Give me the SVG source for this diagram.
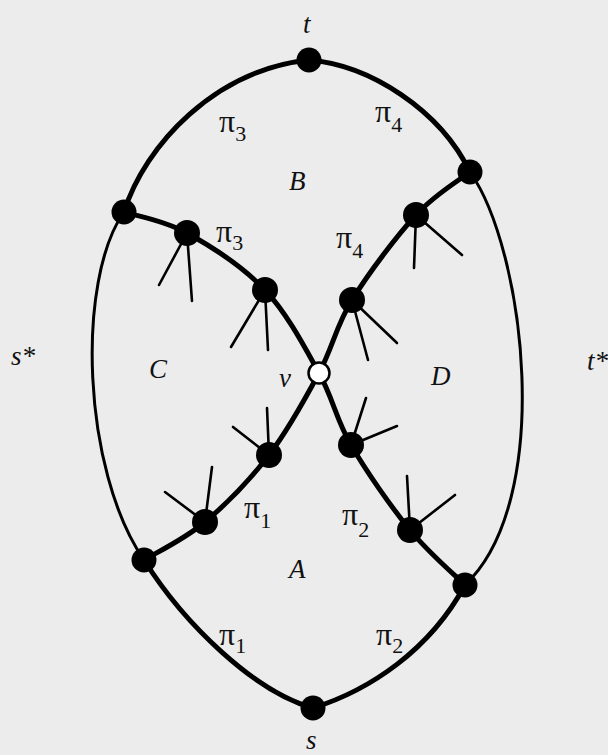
<svg xmlns="http://www.w3.org/2000/svg" width="608" height="755" viewBox="0 0 608 755">
<style>
.thick{fill:none;stroke:#000;stroke-width:5;stroke-linecap:round;stroke-linejoin:round}
.thin{fill:none;stroke:#000;stroke-width:3;stroke-linecap:round}
.spike{fill:none;stroke:#000;stroke-width:2.6;stroke-linecap:round}
.dot{fill:#000}
.open{fill:#fff;stroke:#000;stroke-width:2.5}
.it{font-family:"Liberation Serif",serif;font-style:italic;font-size:27px;fill:#111}
.pi{font-family:"Liberation Serif",serif;font-size:32px;fill:#111}
.sub{font-size:22px}
</style>
<rect width="608" height="755" fill="#ececec"/>
<g id="connectors">
<path class="thick" d="M124,212 C145,145 215,70 309,60"/>
<path class="thick" d="M309,60 C370,65 440,110 470,172"/>
<path class="thin" d="M470,172 C525,250 555,500 465,585"/>
<path class="thick" d="M465,585 C430,650 370,690 313,708"/>
<path class="thick" d="M313,708 C255,692 185,625 144,560"/>
<path class="thin" d="M144,560 C82,470 76,280 124,212"/>
<path class="thick" d="M124,212 C134.5,215.5 163.5,220 187,233 C210.5,246 243,266.7 265,290 C287,313.3 304.7,347.2 319,373 C333.3,398.8 335.8,418.8 351,445 C366.2,471.2 391,506.7 410,530 C429,553.3 455.8,575.8 465,585"/>
<path class="thick" d="M470,172 C461,179.2 435.7,193.7 416,215 C396.3,236.3 368.2,273.7 352,300 C335.8,326.3 332.8,347.2 319,373 C305.2,398.8 288,430.2 269,455 C250,479.8 225.8,504.5 205,522 C184.2,539.5 154.2,553.7 144,560"/>
<g id="spikes">
<path class="spike" d="M187,233 L159,285 M187,233 L192,301"/>
<path class="spike" d="M265,290 L231,347 M265,290 L268,350"/>
<path class="spike" d="M416,215 L414,268 M416,215 L462,255"/>
<path class="spike" d="M352,300 L368,360 M352,300 L397,343"/>
<path class="spike" d="M269,455 L267,408 M269,455 L233,427"/>
<path class="spike" d="M205,522 L212,467 M205,522 L165,492"/>
<path class="spike" d="M351,445 L366,398 M351,445 L397,426"/>
<path class="spike" d="M410,530 L407,476 M410,530 L455,495"/>
</g>
</g>
<g id="node-t"><circle class="dot" cx="309" cy="60" r="12.5"/><text class="it" x="303" y="33">t</text></g>
<g id="node-s"><circle class="dot" cx="313" cy="708" r="12.5"/><text class="it" x="306" y="749">s</text></g>
<g id="node-v"><circle class="open" cx="319" cy="373" r="10.5"/><text class="it" x="279" y="387">v</text></g>
<g id="node-tr"><circle class="dot" cx="470" cy="172" r="12.5"/></g>
<g id="node-tl"><circle class="dot" cx="124" cy="212" r="12.5"/></g>
<g id="node-bl"><circle class="dot" cx="144" cy="560" r="12.5"/></g>
<g id="node-br"><circle class="dot" cx="465" cy="585" r="12.5"/></g>
<g id="node-a1"><circle class="dot" cx="187" cy="233" r="13"/></g>
<g id="node-a2"><circle class="dot" cx="265" cy="290" r="13"/></g>
<g id="node-b1"><circle class="dot" cx="416" cy="215" r="13"/></g>
<g id="node-b2"><circle class="dot" cx="352" cy="300" r="13"/></g>
<g id="node-c1"><circle class="dot" cx="269" cy="455" r="13"/></g>
<g id="node-c2"><circle class="dot" cx="205" cy="522" r="13"/></g>
<g id="node-d1"><circle class="dot" cx="351" cy="445" r="13"/></g>
<g id="node-d2"><circle class="dot" cx="410" cy="530" r="13"/></g>
<g id="labels">
<text class="pi" x="219" y="132">π<tspan class="sub" dy="9">3</tspan></text>
<text class="pi" x="375" y="122">π<tspan class="sub" dy="10">4</tspan></text>
<text class="it" x="289" y="190">B</text>
<text class="pi" x="216" y="242">π<tspan class="sub" dy="8">3</tspan></text>
<text class="pi" x="336" y="248">π<tspan class="sub" dy="10">4</tspan></text>
<text class="it" x="149" y="378">C</text>
<text class="it" x="431" y="385">D</text>
<text class="pi" x="244" y="518">π<tspan class="sub" dy="10">1</tspan></text>
<text class="pi" x="342" y="525">π<tspan class="sub" dy="12">2</tspan></text>
<text class="it" x="289" y="578">A</text>
<text class="pi" x="219" y="645">π<tspan class="sub" dy="8">1</tspan></text>
<text class="pi" x="376" y="645">π<tspan class="sub" dy="8">2</tspan></text>
<text class="it" x="11" y="365">s*</text>
<text class="it" x="587" y="370">t*</text>
</g>
</svg>
